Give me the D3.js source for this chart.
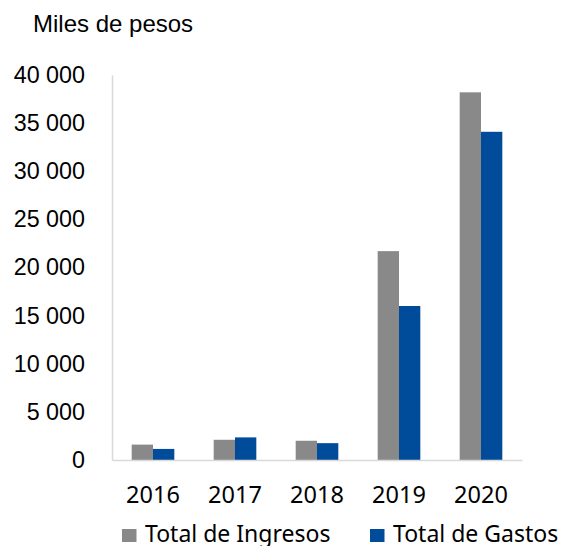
<!DOCTYPE html>
<html><head><meta charset="utf-8">
<script src="https://cdn.jsdelivr.net/npm/d3@7"></script>
<style>body{margin:0;background:#fff}svg{display:block}</style>
</head><body>
<svg id="c" width="561" height="546"></svg>
<script>
const years = ["2016","2017","2018","2019","2020"];
const ingresos = [1600, 2100, 2000, 21700, 38200];
const gastos = [1150, 2350, 1750, 16000, 34100];
const seriesNames = ["Total de Ingresos","Total de Gastos"];
const colors = ["#898989","#004C9B"];
const yTicks = [0,5000,10000,15000,20000,25000,30000,35000,40000];

const svg = d3.select("#c");
const pL = 112, pR = 522, pT = 75, pB = 460;
const x = d3.scaleBand().domain(years).range([pL,pR]).paddingInner(0.48).paddingOuter(0.24);
const xs = d3.scaleBand().domain([0,1]).range([0,x.bandwidth()]);
const y = d3.scaleLinear().domain([0,40000]).range([pB,pT]);
const fmt = v => d3.format(",")(v).replace(/,/g," ");

// y axis
const ya = svg.append("g").attr("transform",`translate(${pL},0)`)
  .call(d3.axisLeft(y).tickValues(yTicks).tickSize(0).tickPadding(27).tickFormat(fmt));
ya.select(".domain").attr("stroke","#d9d9d9").attr("stroke-width",1.5);
ya.selectAll("text").attr("font-family","Liberation Sans, Arial, sans-serif").attr("font-size",23.3).attr("fill","#000");

const series = [ingresos, gastos];
series.forEach((vals,si)=>{
  svg.append("g").selectAll("rect").data(vals).join("rect")
    .attr("x",(d,i)=>x(years[i])+xs(si))
    .attr("width",xs.bandwidth())
    .attr("y",d=>y(d))
    .attr("height",d=>pB-y(d))
    .attr("fill",colors[si]);
});

// x axis
const xa = svg.append("g").attr("transform",`translate(0,${pB})`)
  .call(d3.axisBottom(x).tickSize(0).tickPadding(26));
xa.select(".domain").attr("stroke","#d9d9d9").attr("stroke-width",1.5);
xa.selectAll("text").attr("font-family","Noto Sans, sans-serif").attr("font-size",23.5).attr("fill","#000");

// title
svg.append("text").attr("x",33).attr("y",32).text("Miles de pesos")
  .attr("font-family","Liberation Sans, Arial, sans-serif").attr("font-size",24).attr("fill","#000");

// legend
const legX = [122,370];
seriesNames.forEach((n,i)=>{
  const g = svg.append("g");
  g.append("rect").attr("x",legX[i]).attr("y",529).attr("width",14.5).attr("height",13).attr("fill",colors[i]);
  g.append("text").attr("x",legX[i]+23).attr("y",542).text(n)
    .attr("font-family","Noto Sans, sans-serif").attr("font-size",23).attr("fill","#000");
});
</script>
</body></html>
